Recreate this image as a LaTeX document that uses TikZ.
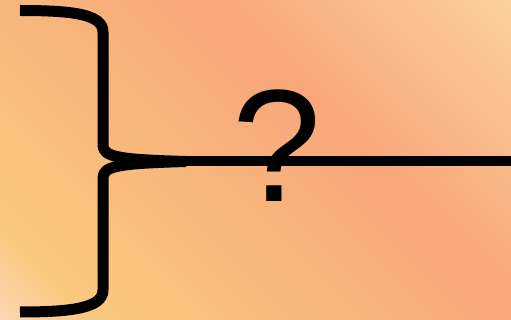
\documentclass[tikz,border=0pt]{standalone}
\usepackage{fontspec}
\setmainfont{Liberation Sans}
\definecolor{cA}{HTML}{FBD8B4}
\definecolor{cB}{HTML}{F9C980}
\definecolor{cC}{HTML}{F8A779}
\definecolor{cD}{HTML}{FBD19C}
\tikzset{
  bracestroke/.style={line width=11pt, line cap=butt, line join=round},
  stemline/.style={line width=10pt, line cap=butt},
  qmark/.style={inner sep=0pt, anchor=base, font=\fontsize{160}{160}\selectfont}
}
\begin{document}
\begin{tikzpicture}[x=1pt,y=-1pt]
\useasboundingbox (0,0) rectangle (511,320);
\begin{scope}
\clip (0,0) rectangle (511,320);
\foreach \i in {0,...,208} {
  \pgfmathsetmacro\a{-322+4*\i}
  \pgfmathsetmacro\b{\a+4.6}
  \pgfmathsetmacro\m{\a+2}
  \ifdim\m pt<-230pt
    \pgfmathsetmacro\p{max(0,min(100,(\m+320)/90*100))}
    \colorlet{cur}{cB!\p!cA}
  \else
    \ifdim\m pt<210pt
      \pgfmathsetmacro\p{(\m+230)/440*100}
      \colorlet{cur}{cC!\p!cB}
    \else
      \pgfmathsetmacro\p{max(0,min(100,(\m-210)/301*100))}
      \colorlet{cur}{cD!\p!cC}
    \fi
  \fi
  \fill[cur] (\a-10,-10) -- (\a+330,330) -- (\b+330,330) -- (\b-10,-10) -- cycle;
}
\end{scope}
\coordinate (tip) at (186,161.5);
\coordinate (lineend) at (511,161.5);
\draw[stemline] (tip) -- (lineend);
\draw[bracestroke] (20,10.5) .. controls (72,10.5) and (103,14) .. (103,32) -- (103,145) .. controls (103,157) and (118,159.5) .. (tip);
\draw[bracestroke] (20,312) .. controls (72,312) and (103,308) .. (103,290) -- (103,178) .. controls (103,166) and (118,163.5) .. (tip);
\node[qmark] (q) at (277,202) {?};
\end{tikzpicture}
\end{document}
